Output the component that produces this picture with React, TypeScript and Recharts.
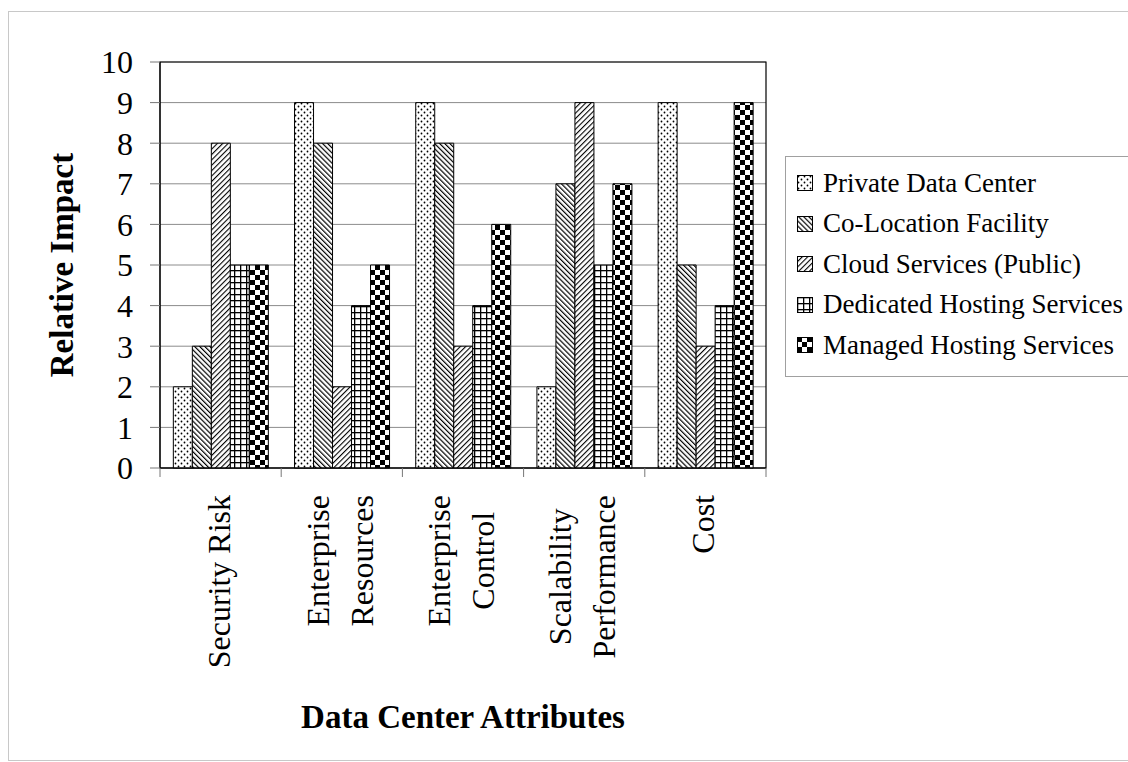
import { BarChart, Bar, XAxis, YAxis, CartesianGrid, Legend, ReferenceArea } from "recharts";

const categories = [
  "Security Risk",
  "Enterprise\nResources",
  "Enterprise\nControl",
  "Scalability\nPerformance",
  "Cost",
];
const privateDataCenter = [2, 9, 9, 2, 9];
const coLocation = [3, 8, 8, 7, 5];
const cloudPublic = [8, 2, 3, 9, 3];
const dedicatedHosting = [5, 4, 4, 5, 4];
const managedHosting = [5, 5, 6, 7, 9];
const seriesNames = [
  "Private Data Center",
  "Co-Location Facility",
  "Cloud Services (Public)",
  "Dedicated Hosting Services",
  "Managed Hosting Services",
];
const yTicks = [0, 1, 2, 3, 4, 5, 6, 7, 8, 9, 10];

const seriesValues = [privateDataCenter, coLocation, cloudPublic, dedicatedHosting, managedHosting];
const seriesKeys = ["s0", "s1", "s2", "s3", "s4"];
const patternIds = ["pat-dots", "pat-back", "pat-fwd", "pat-grid", "pat-check"];

const data = categories.map((name, i) => {
  const row: Record<string, string | number> = { name };
  seriesKeys.forEach((k, s) => (row[k] = seriesValues[s][i]));
  return row;
});

const SERIF = "'Liberation Serif', 'Times New Roman', serif";
const CHART_W = 1128;
const CHART_H = 762;
const MARGIN = { top: 62, right: 362, bottom: 19, left: 20 };
const Y_AXIS_W = 140;
const PLOT_W = CHART_W - MARGIN.left - MARGIN.right - Y_AXIS_W;
const BAND = PLOT_W / categories.length;

let measureCtx: CanvasRenderingContext2D | null = null;
function textWidth(s: string, font: string): number {
  if (!measureCtx) measureCtx = document.createElement("canvas").getContext("2d");
  if (!measureCtx) return s.length * 14;
  measureCtx.font = font;
  return measureCtx.measureText(s).width;
}

// rotated, multi-line category labels hanging below the axis,
// plus the tick marks on the category boundaries
function CategoryTick({ x, y, payload, index }: any) {
  const lines = String(payload.value).split("\n");
  const widths = lines.map((l) => textWidth(l, `32px ${SERIF}`));
  const maxW = Math.max(...widths);
  const centerY = y + 27 + maxW / 2;
  const n = lines.length;
  const last = index === categories.length - 1;
  return (
    <g>
      <line x1={x - BAND / 2} x2={x - BAND / 2} y1={y} y2={y + 9} stroke="#777" />
      {last && <line x1={x + BAND / 2} x2={x + BAND / 2} y1={y} y2={y + 9} stroke="#777" />}
      {lines.map((line, i) => (
        <text
          key={i}
          transform={`translate(${x + 9 + (i - (n - 1) / 2) * 44}, ${centerY}) rotate(-90)`}
          textAnchor="middle"
          fontFamily={SERIF}
          fontSize={32}
          fill="#000"
        >
          {line}
        </text>
      ))}
    </g>
  );
}

function YTitle({ viewBox }: any) {
  const cx = viewBox.x + 53;
  const cy = viewBox.y + viewBox.height / 2;
  return (
    <text
      transform={`translate(${cx}, ${cy}) rotate(-90)`}
      textAnchor="middle"
      fontFamily={SERIF}
      fontWeight="bold"
      fontSize={33}
      fill="#000"
    >
      Relative Impact
    </text>
  );
}

function XTitle({ viewBox }: any) {
  return (
    <text
      x={viewBox.x + viewBox.width / 2}
      y={viewBox.y + 260}
      textAnchor="middle"
      fontFamily={SERIF}
      fontWeight="bold"
      fontSize={33}
      fill="#000"
    >
      Data Center Attributes
    </text>
  );
}

function PatternLegend({ payload }: any) {
  const items = ((payload || []) as any[])
    .slice()
    .sort((a, b) => seriesNames.indexOf(a.value) - seriesNames.indexOf(b.value));
  return (
    <div
      style={{
        border: "1px solid #a0a0a0",
        width: 345,
        height: 221,
        boxSizing: "border-box",
        paddingTop: 6,
        fontFamily: SERIF,
        fontSize: 27,
        color: "#000",
        background: "#fff",
      }}
    >
      {items.map((p, i) => {
        const idx = Math.max(0, seriesNames.indexOf(p.value));
        return (
          <div key={i} style={{ display: "flex", alignItems: "center", height: 40.5, whiteSpace: "nowrap" }}>
            <svg width={16} height={16} style={{ marginLeft: 11, marginRight: 10, flex: "none" }}>
              <rect x={0.5} y={0.5} width={15} height={15} fill={`url(#${patternIds[idx]})`} stroke="#000" />
            </svg>
            <span>{p.value}</span>
          </div>
        );
      })}
    </div>
  );
}

export default function App() {
  return (
    <div
      style={{
        position: "absolute",
        left: 0,
        top: 0,
        width: CHART_W,
        height: CHART_H,
        overflow: "hidden",
        background: "#fff",
      }}
    >
      <div
        style={{
          position: "absolute",
          left: 8,
          top: 11,
          width: 1140,
          height: 748,
          border: "1px solid #c8c8c8",
        }}
      />
      <div style={{ position: "absolute", left: 0, top: 0 }}>
        <BarChart
          width={CHART_W}
          height={CHART_H}
          data={data}
          margin={MARGIN}
          barCategoryGap="11%"
          barGap={0}
        >
          <defs>
            <pattern id="pat-dots" patternUnits="userSpaceOnUse" width={6} height={6}>
              <rect width={6} height={6} fill="#fff" />
              <circle cx={1.5} cy={1.5} r={0.9} fill="#000" />
              <circle cx={4.5} cy={4.5} r={0.9} fill="#000" />
            </pattern>
            <pattern id="pat-back" patternUnits="userSpaceOnUse" width={3.6} height={3.6} patternTransform="rotate(-45)">
              <rect width={3.6} height={3.6} fill="#fff" />
              <rect x={0} y={0} width={1.2} height={3.6} fill="#000" />
            </pattern>
            <pattern id="pat-fwd" patternUnits="userSpaceOnUse" width={3.8} height={3.8} patternTransform="rotate(45)">
              <rect width={3.8} height={3.8} fill="#fff" />
              <rect x={0} y={0} width={1.1} height={3.8} fill="#000" />
            </pattern>
            <pattern id="pat-grid" patternUnits="userSpaceOnUse" width={6} height={6}>
              <rect width={6} height={6} fill="#fff" />
              <rect x={0} y={0} width={1.3} height={6} fill="#000" />
              <rect x={0} y={0} width={6} height={1.3} fill="#000" />
            </pattern>
            <pattern id="pat-check" patternUnits="userSpaceOnUse" width={10} height={10}>
              <rect width={10} height={10} fill="#fff" />
              <rect x={0} y={0} width={5} height={5} fill="#000" />
              <rect x={5} y={5} width={5} height={5} fill="#000" />
            </pattern>
          </defs>
          <CartesianGrid vertical={false} stroke="#8c8c8c" />
          <XAxis
            dataKey="name"
            height={275}
            tickSize={0}
            tickMargin={0}
            tickLine={false}
            axisLine={{ stroke: "#000" }}
            tick={<CategoryTick />}
            interval={0}
            label={<XTitle />}
          />
          <YAxis
            width={Y_AXIS_W}
            domain={[0, 10]}
            ticks={yTicks}
            interval={0}
            tickSize={10}
            tickMargin={17}
            axisLine={{ stroke: "#000" }}
            tickLine={{ stroke: "#777" }}
            tick={{ fontFamily: SERIF, fontSize: 32, fill: "#000" }}
            label={<YTitle />}
          />
          <Legend
            layout="vertical"
            align="center"
            verticalAlign="middle"
            content={<PatternLegend />}
            wrapperStyle={{ left: 785, top: 156, width: 345, height: 221 }}
          />
          {seriesKeys.map((k, s) => (
            <Bar
              key={k}
              dataKey={k}
              name={seriesNames[s]}
              fill={`url(#${patternIds[s]})`}
              stroke="#000"
              strokeWidth={1}
              isAnimationActive={false}
            />
          ))}
          <ReferenceArea y1={0} y2={10} fill="none" stroke="#000" strokeWidth={1.2} ifOverflow="visible" />
        </BarChart>
      </div>
    </div>
  );
}
